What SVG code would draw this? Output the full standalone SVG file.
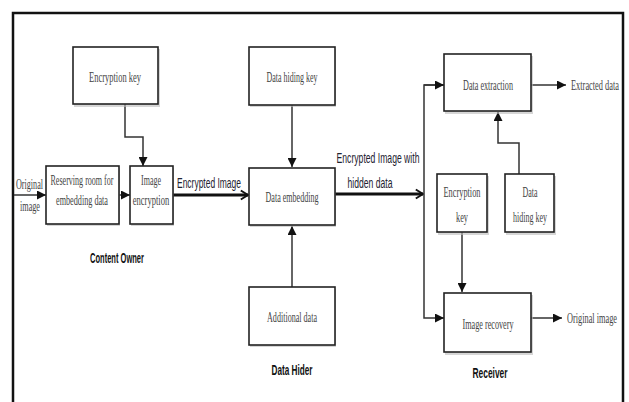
<svg xmlns="http://www.w3.org/2000/svg" width="629" height="402" viewBox="0 0 629 402">
<defs>
<style>
.box{fill:#fff;stroke:#222;stroke-width:1.6}
.sh{fill:#bbb;opacity:0.6}
.bl{font-family:"Liberation Serif",serif;font-size:14.5px;fill:#444;text-anchor:middle}
.cl{font-family:"Liberation Sans",sans-serif;font-size:14.5px;fill:#1e2230;text-anchor:middle}
.bd{font-family:"Liberation Sans",sans-serif;font-size:14.5px;font-weight:bold;fill:#111;text-anchor:middle}
.ln{fill:none;stroke:#333;stroke-width:1.5}
.thick{fill:none;stroke:#111;stroke-width:3}
</style>
<marker id="tri" viewBox="0 0 10 10" refX="10" refY="5" markerWidth="9" markerHeight="9" markerUnits="userSpaceOnUse" orient="auto">
<path d="M0,0 L10,5 L0,10 Z" fill="#111"/>
</marker>
<marker id="chev" viewBox="0 0 10 12" refX="9" refY="6" markerWidth="9" markerHeight="12" markerUnits="userSpaceOnUse" orient="auto">
<path d="M1,1 L9,6 L1,11" fill="none" stroke="#111" stroke-width="2.2"/>
</marker>
</defs>
<rect width="629" height="402" fill="#fff"/>
<path d="M13,402 V13 H623 V402" fill="none" stroke="#111" stroke-width="2.5"/>

<g id="connectors">
<path class="ln" d="M14,195 H46" stroke-width="2" marker-end="url(#tri)"/>
<path class="ln" d="M119,195 H130" marker-end="url(#tri)"/>
<path class="ln" d="M125,104 V137 H143 V166" marker-end="url(#tri)"/>
<path class="thick" d="M173,195 H248" marker-end="url(#chev)"/>
<path class="ln" d="M292,105 V167" marker-end="url(#tri)"/>
<path class="ln" d="M292,287 V226" marker-end="url(#tri)"/>
<path class="thick" d="M335,194 H423" marker-end="url(#chev)"/>
<path class="ln" d="M444,85 H424 V318 H444" marker-end="url(#tri)"/>
<path class="ln" d="M424,85 H444" marker-end="url(#tri)"/>
<path class="ln" d="M531,85 H566" marker-end="url(#tri)"/>
<path class="ln" d="M519,174 V143 H498 V112" marker-end="url(#tri)"/>
<path class="ln" d="M462,232 V292" marker-end="url(#tri)"/>
<path class="ln" d="M531,318 H562" marker-end="url(#tri)"/>
</g>

<g id="original-image">
<text class="bl" transform="translate(29.5,189) scale(0.56,1)">Original</text>
<text class="bl" transform="translate(30,211) scale(0.565,1)">image</text>
</g>

<g id="encryption-key">
<rect class="sh" x="74" y="49" width="86" height="58"/>
<rect class="box" x="73" y="47" width="85" height="57"/>
<text class="bl" transform="translate(115,82) scale(0.584,1)">Encryption key</text>
</g>

<g id="reserving-room">
<rect class="sh" x="47" y="168" width="73" height="58"/>
<rect class="box" x="46" y="166" width="73" height="58"/>
<text class="bl" transform="translate(82,185) scale(0.555,1)">Reserving room for</text>
<text class="bl" transform="translate(82,205) scale(0.564,1)">embedding data</text>
</g>

<g id="image-encryption">
<rect class="sh" x="131" y="168" width="43" height="58"/>
<rect class="box" x="130" y="166" width="43" height="58"/>
<text class="bl" transform="translate(151,185) scale(0.55,1)">Image</text>
<text class="bl" transform="translate(151,205) scale(0.59,1)">encryption</text>
</g>

<g id="content-owner">
<text class="bd" transform="translate(117,263) scale(0.52,1)">Content Owner</text>
</g>

<g id="encrypted-image-label">
<text class="cl" transform="translate(209,188) scale(0.584,1)">Encrypted Image</text>
</g>

<g id="data-hiding-key">
<rect class="sh" x="250" y="49" width="86" height="58"/>
<rect class="box" x="249" y="47" width="86" height="58"/>
<text class="bl" transform="translate(292,82) scale(0.55,1)">Data hiding key</text>
</g>

<g id="data-embedding">
<rect class="sh" x="250" y="170" width="86" height="57"/>
<rect class="box" x="249" y="168" width="86" height="57"/>
<text class="bl" transform="translate(292,202) scale(0.556,1)">Data embedding</text>
</g>

<g id="additional-data">
<rect class="sh" x="250" y="289" width="86" height="58"/>
<rect class="box" x="249" y="287" width="86" height="58"/>
<text class="bl" transform="translate(292,322) scale(0.557,1)">Additional data</text>
</g>

<g id="data-hider">
<text class="bd" transform="translate(292,375) scale(0.565,1)">Data Hider</text>
</g>

<g id="hidden-data-label">
<text class="cl" transform="translate(378,163) scale(0.595,1)">Encrypted Image with</text>
<text class="cl" transform="translate(370,188) scale(0.594,1)">hidden data</text>
</g>

<g id="data-extraction">
<rect class="sh" x="445" y="56" width="88" height="58"/>
<rect class="box" x="444" y="54" width="87" height="57"/>
<text class="bl" transform="translate(488,90) scale(0.562,1)">Data extraction</text>
</g>

<g id="extracted-data">
<text class="bl" transform="translate(595,90) scale(0.576,1)">Extracted data</text>
</g>

<g id="receiver-encryption-key">
<rect class="sh" x="438" y="176" width="51" height="59"/>
<rect class="box" x="437" y="174" width="50" height="58"/>
<text class="bl" transform="translate(462,197) scale(0.574,1)">Encryption</text>
<text class="bl" transform="translate(462,222) scale(0.57,1)">key</text>
</g>

<g id="receiver-data-hiding-key">
<rect class="sh" x="506" y="176" width="50" height="59"/>
<rect class="box" x="505" y="174" width="49" height="58"/>
<text class="bl" transform="translate(530,197) scale(0.55,1)">Data</text>
<text class="bl" transform="translate(530,222) scale(0.55,1)">hiding key</text>
</g>

<g id="image-recovery">
<rect class="sh" x="445" y="295" width="88" height="60"/>
<rect class="box" x="444" y="293" width="87" height="59"/>
<text class="bl" transform="translate(488,329) scale(0.563,1)">Image recovery</text>
</g>

<g id="original-image-out">
<text class="bl" transform="translate(592,323) scale(0.572,1)">Original image</text>
</g>

<g id="receiver">
<text class="bd" transform="translate(490,378) scale(0.58,1)">Receiver</text>
</g>
</svg>
